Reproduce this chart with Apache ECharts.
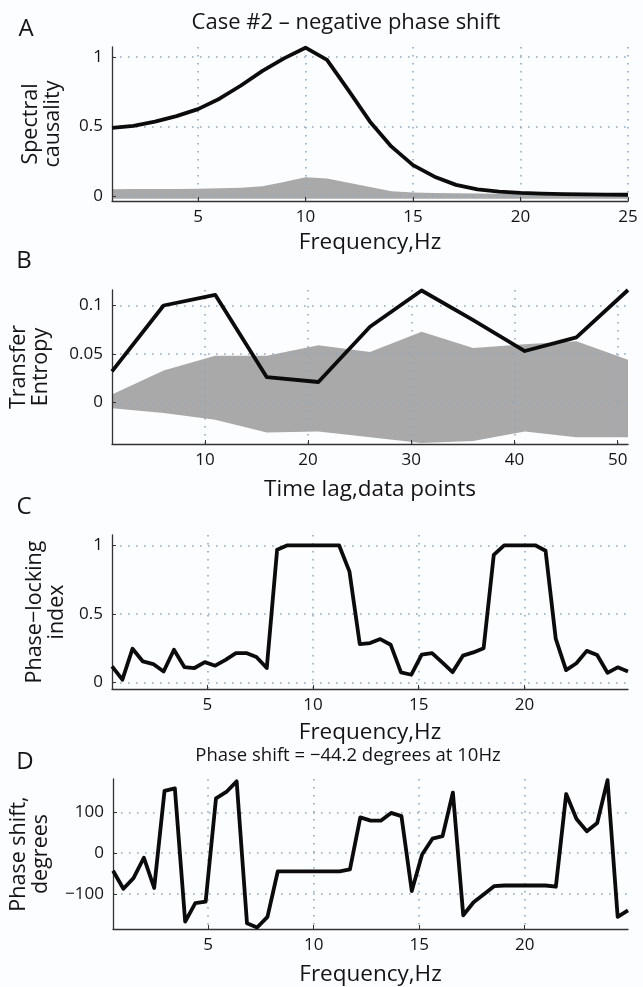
<!DOCTYPE html>
<html>
<head>
<meta charset="utf-8">
<script src="https://cdn.jsdelivr.net/npm/echarts@6/dist/echarts.min.js"></script>
<style>
  html, body { margin: 0; padding: 0; background: #fcfdff; }
  #box { width: 643px; height: 987px; }
</style>
</head>
<body>
<div id="box"></div>
<script>
// A: spectral causality, 1..25 Hz
var freqA = [1, 2, 3, 4, 5, 6, 7, 8, 9, 10, 11, 12, 13, 14, 15, 16, 17, 18, 19, 20, 21, 22, 23, 24, 25];
var causality = [0.49, 0.505, 0.535, 0.575, 0.625, 0.70, 0.795, 0.90, 0.99, 1.067, 0.98, 0.76, 0.535, 0.355, 0.222, 0.139, 0.08, 0.048, 0.031, 0.022, 0.017, 0.013, 0.011, 0.01, 0.009];
var causalityHi = [0.048, 0.05, 0.05, 0.05, 0.052, 0.055, 0.06, 0.07, 0.1, 0.135, 0.125, 0.095, 0.065, 0.035, 0.025, 0.022, 0.02, 0.018, 0.016, 0.015, 0.014, 0.013, 0.012, 0.012, 0.012];
var causalityLo = [-0.02, -0.02, -0.02, -0.02, -0.02, -0.02, -0.02, -0.02, -0.02, -0.02, -0.02, -0.02, -0.02, -0.02, -0.02, -0.02, -0.02, -0.02, -0.02, -0.02, -0.02, -0.02, -0.02, -0.02, -0.02];

// B: transfer entropy vs time lag
var lags = [1, 6, 11, 16, 21, 26, 31, 36, 41, 46, 51];
var entropy = [0.032, 0.1, 0.111, 0.026, 0.021, 0.078, 0.1155, 0.085, 0.053, 0.067, 0.116];
var entropyHi = [0.008, 0.033, 0.048, 0.048, 0.059, 0.052, 0.073, 0.056, 0.06, 0.063, 0.044];
var entropyLo = [-0.006, -0.011, -0.018, -0.031, -0.030, -0.036, -0.042, -0.040, -0.030, -0.036, -0.036];

// C, D: frequency grid
var freqCD = [0.49, 0.98, 1.46, 1.95, 2.44, 2.93, 3.42, 3.91, 4.39, 4.88, 5.37, 5.86, 6.35, 6.84, 7.32, 7.81, 8.30, 8.79, 9.28, 9.77,
  10.25, 10.74, 11.23, 11.72, 12.21, 12.70, 13.18, 13.67, 14.16, 14.65, 15.14, 15.63, 16.11, 16.60, 17.09, 17.58, 18.07, 18.55, 19.04, 19.53,
  20.02, 20.51, 21.00, 21.48, 21.97, 22.46, 22.95, 23.44, 23.93, 24.41, 24.90];
var plv = [0.117, 0.02, 0.246, 0.153, 0.134, 0.08, 0.238, 0.112, 0.105, 0.148, 0.122, 0.165, 0.214, 0.214, 0.185, 0.105, 0.968, 1.0, 1.0, 1.0,
  1.0, 1.0, 1.0, 0.81, 0.28, 0.287, 0.316, 0.275, 0.073, 0.056, 0.202, 0.214, 0.146, 0.075, 0.195, 0.219, 0.25, 0.93, 1.0, 1.0,
  1.0, 1.0, 0.96, 0.32, 0.09, 0.14, 0.23, 0.2, 0.07, 0.11, 0.08];
var phase = [-42.7, -87, -61, -11, -85, 152.6, 159, -167.6, -122, -118.6, 134.4, 150, 176, -171.5, -181.8, -155.7, -44.2, -44.2, -44.2, -44.2,
  -44.2, -44.2, -44.2, -39.5, 87.7, 79.8, 79.8, 98.8, 91, -92.5, -3, 35.6, 41.9, 148.6, -151.8, -120, -100.4, -80.6, -79, -79,
  -79, -79, -79, -82, 145, 84, 54, 74, 179, -156, -140];

var ticksA = [5, 10, 15, 20, 25];
var ticksB = [10, 20, 30, 40, 50];
var ticksCD = [5, 10, 15, 20];

var chart = echarts.init(document.getElementById('box'));

var FONT = '"Open Sans", sans-serif';
var INK = '#141414';
var BG = '#fcfdff';

function pairs(xs, ys) {
  return xs.map(function (x, i) { return [x, ys[i]]; });
}

function xAx(idx, min, max, ticks, name, gap) {
  return {
    type: 'value', gridIndex: idx, min: min, max: max, z: 1.5,
    name: name, nameLocation: 'middle', nameGap: gap,
    nameTextStyle: { fontFamily: FONT, fontSize: 22.5, color: INK },
    axisLine: { show: true, onZero: false, lineStyle: { color: '#333', width: 1.3 } },
    axisTick: { show: true, inside: true, length: 4, customValues: ticks, lineStyle: { color: '#333' } },
    axisLabel: { customValues: ticks, margin: 8, fontFamily: FONT, fontSize: 17, color: INK },
    splitLine: { show: true, lineStyle: { color: '#8ea8c3', width: 1.6, type: [1.6, 6.4] } }
  };
}
function yAx(idx, min, max, ticks, name, gap) {
  return {
    type: 'value', gridIndex: idx, min: min, max: max, z: 1.5,
    name: name, nameLocation: 'middle', nameGap: gap, nameRotate: 90,
    nameTextStyle: { fontFamily: FONT, fontSize: 21.5, color: INK, lineHeight: 22 },
    axisLine: { show: true, onZero: false, lineStyle: { color: '#333', width: 1.3 } },
    axisTick: { show: true, inside: true, length: 4, customValues: ticks, lineStyle: { color: '#333' } },
    axisLabel: {
      customValues: ticks, margin: 9, fontFamily: FONT, fontSize: 17, color: INK,
      formatter: function (v) { return String(v).replace('-', '\u2212'); }
    },
    splitLine: { show: true, lineStyle: { color: '#8ea8c3', width: 1.6, type: [1.6, 6.4] } }
  };
}
// grey band: fill the upper bound down to the axis, then paint the part below the lower bound with background
function band(idx, xs, lo, hi) {
  return [
    { type: 'line', xAxisIndex: idx, yAxisIndex: idx, z: 1, symbol: 'none', silent: true,
      lineStyle: { opacity: 0 }, areaStyle: { color: '#a9a9a9', opacity: 1, origin: 'start' }, data: pairs(xs, hi) },
    { type: 'line', xAxisIndex: idx, yAxisIndex: idx, z: 1, symbol: 'none', silent: true,
      lineStyle: { opacity: 0 }, areaStyle: { color: BG, opacity: 1, origin: 'start' }, data: pairs(xs, lo) }
  ];
}
function curve(idx, xs, ys) {
  return { type: 'line', xAxisIndex: idx, yAxisIndex: idx, z: 3, symbol: 'none',
    lineStyle: { color: '#0b0b0b', width: 3.8, join: 'round' }, data: pairs(xs, ys) };
}
function label(t, x, y, size) {
  return { type: 'text', x: x, y: y,
    style: { text: t, fontFamily: FONT, fontSize: size, fill: INK, textAlign: 'center', textVerticalAlign: 'middle' } };
}

var option = {
  backgroundColor: BG,
  animation: false,
  grid: [
    { left: 112, right: 15, top: 47, height: 154 },
    { left: 112, right: 15, top: 290, height: 154 },
    { left: 112, right: 15, top: 535, height: 154 },
    { left: 112, right: 15, top: 779, height: 155 }
  ],
  xAxis: [
    xAx(0, 1, 25, ticksA, 'Frequency,Hz', 30),
    xAx(1, 1, 51, ticksB, 'Time lag,data points', 34),
    xAx(2, 0.488, 24.9, ticksCD, 'Frequency,Hz', 32),
    xAx(3, 0.488, 24.9, ticksCD, 'Frequency,Hz', 34)
  ],
  yAxis: [
    yAx(0, -0.036, 1.072, [0, 0.5, 1], 'Spectral\ncausality', 48),
    yAx(1, -0.043, 0.116, [0, 0.05, 0.1], 'Transfer\nEntropy', 60),
    yAx(2, -0.048, 1.075, [0, 0.5, 1], 'Phase\u2212locking\nindex', 44),
    yAx(3, -185.5, 181.8, [-100, 0, 100], 'Phase shift,\ndegrees', 61)
  ],
  graphic: [
    label('Case #2 \u2013 negative phase shift', 346, 23, 22),
    label('Phase shift = \u221244.2 degrees at 10Hz', 348, 756, 18.5),
    label('A', 26, 29, 24),
    label('B', 24, 261, 24),
    label('C', 24, 507, 24),
    label('D', 25, 762, 24)
  ],
  series: [].concat(
    band(0, freqA, causalityLo, causalityHi),
    [curve(0, freqA, causality)],
    band(1, lags, entropyLo, entropyHi),
    [curve(1, lags, entropy)],
    [curve(2, freqCD, plv)],
    [curve(3, freqCD, phase)]
  )
};

chart.setOption(option);
</script>
</body>
</html>
